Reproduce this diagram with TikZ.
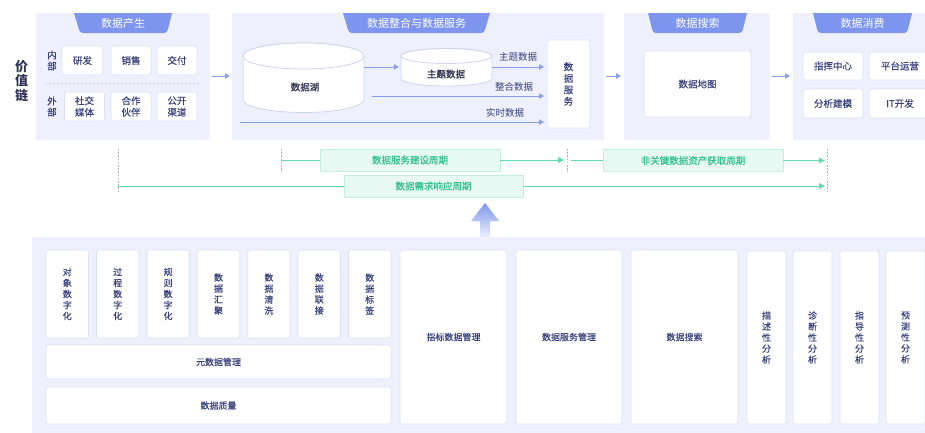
\documentclass[tikz,border=0pt]{standalone}
\usepackage{fontspec}
\setmainfont{Noto Sans CJK SC}
\newfontfamily\medfont{Noto Sans CJK SC}[FakeBold=0.2]
\newfontfamily\semifont{Noto Sans CJK SC}[FakeBold=1.0]
\usetikzlibrary{arrows.meta}
\definecolor{panelbg}{HTML}{EEF1FD}
\definecolor{hdr}{HTML}{7D95EF}
\definecolor{boxline}{HTML}{DCE1F6}
\definecolor{cylline}{HTML}{CBD3F2}
\definecolor{ink}{HTML}{36407A}
\definecolor{darkink}{HTML}{2F3552}
\definecolor{flowc}{HTML}{86A0F2}
\definecolor{mint}{HTML}{62D9AF}
\definecolor{mintbg}{HTML}{E7F9F2}
\definecolor{mintline}{HTML}{C4EFDF}
\definecolor{minttext}{HTML}{2FC08B}
\definecolor{tick}{HTML}{A8ACB8}
\definecolor{sep}{HTML}{CDD1DE}

\begin{document}
\begin{tikzpicture}[x=1pt,y=-1pt,
  panel/.style={fill=panelbg, draw=none, inner sep=0, outer sep=0},
  box/.style={fill=white, draw=boxline, line width=0.8pt, rounded corners=1.5pt,
    inner sep=0, outer sep=0, text=ink, font=\medfont\fontsize{9.5}{11.5}\selectfont, align=center},
  lowbox/.style={box, font=\medfont\fontsize{9}{11}\selectfont},
  hdrfill/.style={fill=hdr},
  hdrtext/.style={text=white, font=\fontsize{11}{13}\selectfont, inner sep=0},
  flow/.style={draw=flowc, line width=1pt, -{Triangle[length=5pt,width=5.5pt]}},
  flowlabel/.style={text=ink, font=\fontsize{9.5}{11}\selectfont, inner sep=0},
  cyl/.style={fill=white, draw=cylline, line width=0.8pt},
  cyltext/.style={text=darkink, font=\semifont\fontsize{9.5}{11}\selectfont, inner sep=0},
  side/.style={text=ink, font=\medfont\fontsize{9.5}{11}\selectfont, align=center, inner sep=0},
  span/.style={fill=mintbg, draw=mintline, line width=0.8pt, text=minttext,
    font=\medfont\fontsize{9.5}{11}\selectfont, inner sep=0},
  spanline/.style={draw=mint, line width=1pt},
  spanarrow/.style={spanline, -{Triangle[length=6pt,width=5.5pt]}},
  tickmark/.style={draw=tick, line width=0.9pt, dash pattern=on 1.6pt off 1.6pt},
]
\path[use as bounding box, clip] (0,0) rectangle (925,432);
\fill[white] (0,0) rectangle (925,432);

% ---------- value chain label ----------
\node[text=darkink, font=\fontsize{13}{14.5}\selectfont\bfseries, align=center, inner sep=0]
  (chain) at (21.5,81) {价\\值\\链};

% ---------- top stage panels ----------
\node[panel, minimum width=174pt, minimum height=127pt] (p1) at (123,76.5) {};
\node[panel, minimum width=372pt, minimum height=127pt] (p2) at (418,76.5) {};
\node[panel, minimum width=146pt, minimum height=127pt] (p3) at (697,76.5) {};
\node[panel, minimum width=150pt, minimum height=127pt] (p4) at (868,76.5) {};

% stage headers
\fill[hdrfill] (74,13) -- (172,13) {[rounded corners=3pt] -- (167,33) -- (80,33)} -- cycle;
\fill[hdrfill] (343,13) -- (490,13) {[rounded corners=3pt] -- (484,33) -- (349,33)} -- cycle;
\fill[hdrfill] (648,13) -- (747,13) {[rounded corners=3pt] -- (742,33) -- (653,33)} -- cycle;
\fill[hdrfill] (813,13) -- (912,13) {[rounded corners=3pt] -- (907,33) -- (818,33)} -- cycle;
\node[hdrtext] (h1) at (123,23) {数据产生};
\node[hdrtext] (h2) at (416.5,23) {数据整合与数据服务};
\node[hdrtext] (h3) at (697.5,23) {数据搜索};
\node[hdrtext] (h4) at (862.5,23) {数据消费};

% stage-to-stage arrows
\coordinate (row) at (0,76);
\draw[flow, shorten <=2pt, shorten >=2pt] (p1.east |- row) -- (p2.west |- row);
\draw[flow, shorten <=2pt, shorten >=3pt] (p2.east |- row) -- (p3.west |- row);
\draw[flow, shorten <=2pt, shorten >=3pt] (p3.east |- row) -- (p4.west |- row);

% ---------- data generation ----------
\node[side] (inner) at (52,60.5) {内\\部};
\node[side] (outer) at (52,106.5) {外\\部};
\node[box, minimum width=41pt, minimum height=29pt] (rd) at (82.5,60.5) {研发};
\node[box, minimum width=40pt, minimum height=29pt] (sales) at (131,60.5) {销售};
\node[box, minimum width=40pt, minimum height=29pt] (deliver) at (177,60.5) {交付};
\coordinate (sepL) at (45,83);
\coordinate (sepR) at (200,83);
\draw[draw=sep, line width=0.8pt, dash pattern=on 2pt off 2pt] (sepL) -- (sepR);
\node[box, minimum width=40pt, minimum height=29pt] (social) at (84.5,106.5) {社交\\媒体};
\node[box, minimum width=40pt, minimum height=29pt] (partner) at (131,106.5) {合作\\伙伴};
\node[box, minimum width=40pt, minimum height=29pt] (public) at (177,106.5) {公开\\渠道};

% ---------- data integration and services ----------
% data lake
\path[cyl] (243,56) -- (243,99.5)
  arc[start angle=180, end angle=360, x radius=60.5pt, y radius=13pt]
  -- (364,56)
  arc[start angle=0, end angle=180, x radius=60.5pt, y radius=13pt] -- cycle;
\path[cyl] (303.5,56) ellipse [x radius=60.5pt, y radius=13pt];
\node[inner sep=0, minimum width=121pt, minimum height=70pt] (lake) at (303.5,78) {};
\node[cyltext] (lakelbl) at (305,87) {数据湖};

% subject data
\path[cyl] (401,56) -- (401,78.5)
  arc[start angle=180, end angle=360, x radius=45.5pt, y radius=7.5pt]
  -- (492,56)
  arc[start angle=0, end angle=180, x radius=45.5pt, y radius=7.5pt] -- cycle;
\path[cyl] (446.5,56) ellipse [x radius=45.5pt, y radius=7.5pt];
\node[inner sep=0, minimum width=91pt, minimum height=38pt] (theme) at (446.5,67) {};
\node[cyltext] (themelbl) at (446,74) {主题数据};

% data service
\node[box, minimum width=43pt, minimum height=88pt] (svc) at (568.5,84) {数\\据\\服\\务};

\coordinate (intsrc) at (372,96);
\coordinate (rtsrc) at (240,122);
\draw[flow, shorten >=2pt] (lake.east |- theme.west) -- (theme.west);
\draw[flow, shorten >=3pt] (theme.east) -- (theme.east -| svc.west);
\draw[flow, shorten >=3pt] (intsrc) -- (intsrc -| svc.west);
\draw[flow, shorten >=3pt] (rtsrc) -- (rtsrc -| svc.west);
\node[flowlabel] (lbl1) at (518,57) {主题数据};
\node[flowlabel] (lbl2) at (514,87) {整合数据};
\node[flowlabel] (lbl3) at (505,113) {实时数据};

% ---------- data search ----------
\node[box, minimum width=107pt, minimum height=66pt] (map) at (697.5,84) {数据地图};

% ---------- data consumption ----------
\node[box, minimum width=60pt, minimum height=28pt] (cmd) at (833,66) {指挥中心};
\node[box, minimum width=62pt, minimum height=28pt] (ops) at (900,66) {平台运营};
\node[box, minimum width=60pt, minimum height=29pt] (model) at (833,103.5) {分析建模};
\node[box, minimum width=62pt, minimum height=29pt] (itdev) at (900,103.5) {IT开发};

% ---------- cycle timelines ----------
\coordinate (k1t) at (118,149); \coordinate (k1b) at (118,192);
\coordinate (k2t) at (281,149); \coordinate (k2b) at (281,172);
\coordinate (k3t) at (567,149); \coordinate (k3b) at (567,172);
\coordinate (k4t) at (827,149); \coordinate (k4b) at (827,192);
\draw[tickmark] (k1t) -- (k1b);
\draw[tickmark] (k2t) -- (k2b);
\draw[tickmark] (k3t) -- (k3b);
\draw[tickmark] (k4t) -- (k4b);

\node[span, minimum width=180pt, minimum height=22pt] (build) at (410,160) {数据服务建设周期};
\node[span, minimum width=180pt, minimum height=22pt] (nonkey) at (693,160.5) {非关键数据资产获取周期};
\node[span, minimum width=179pt, minimum height=22pt] (resp) at (433.5,186) {数据需求响应周期};

\coordinate (b0) at (281,160);
\coordinate (b1) at (564,160);
\coordinate (n0) at (571,160.5);
\coordinate (n1) at (825,160.5);
\coordinate (r0) at (118,186);
\coordinate (r1) at (825,186);
\draw[spanline] (b0) -- (build.west);
\draw[spanarrow] (build.east) -- (b1);
\draw[spanline] (n0) -- (nonkey.west);
\draw[spanarrow] (nonkey.east) -- (n1);
\draw[spanline] (r0) -- (resp.west);
\draw[spanarrow] (resp.east) -- (r1);

% ---------- capability layer ----------
\node[panel, minimum width=910pt, minimum height=200pt] (base) at (487,337) {};
\shade[top color=hdr, bottom color=hdr!15!white]
  (485,203) -- (499,221) -- (490,221) -- (490,237) -- (480,237) -- (480,221) -- (471,221) -- cycle;

\node[lowbox, minimum width=42.5pt, minimum height=88pt] (c1) at (67.3,294) {对\\象\\数\\字\\化};
\node[lowbox, minimum width=42.5pt, minimum height=88pt] (c2) at (117.7,294) {过\\程\\数\\字\\化};
\node[lowbox, minimum width=42.5pt, minimum height=88pt] (c3) at (168.1,294) {规\\则\\数\\字\\化};
\node[lowbox, minimum width=42.5pt, minimum height=88pt] (c4) at (218.5,294) {数\\据\\汇\\聚};
\node[lowbox, minimum width=42.5pt, minimum height=88pt] (c5) at (268.9,294) {数\\据\\清\\洗};
\node[lowbox, minimum width=42.5pt, minimum height=88pt] (c6) at (319.3,294) {数\\据\\联\\接};
\node[lowbox, minimum width=42.5pt, minimum height=88pt] (c7) at (369.7,294) {数\\据\\标\\签};
\node[lowbox, minimum width=345pt, minimum height=34pt] (meta) at (218.5,362) {元数据管理};
\node[lowbox, minimum width=345pt, minimum height=37pt] (quality) at (218.5,405.5) {数据质量};

\node[lowbox, minimum width=107pt, minimum height=174pt] (metric) at (453.5,337) {指标数据管理};
\node[lowbox, minimum width=106pt, minimum height=174pt] (svcmgmt) at (569,337) {数据服务管理};
\node[lowbox, minimum width=107pt, minimum height=174pt] (search) at (684.5,337) {数据搜索};

\node[lowbox, minimum width=39pt, minimum height=173pt] (a1) at (766.5,337.5) {描\\述\\性\\分\\析};
\node[lowbox, minimum width=39pt, minimum height=173pt] (a2) at (812.5,337.5) {诊\\断\\性\\分\\析};
\node[lowbox, minimum width=39pt, minimum height=173pt] (a3) at (859.5,337.5) {指\\导\\性\\分\\析};
\node[lowbox, minimum width=39pt, minimum height=173pt] (a4) at (905.5,337.5) {预\\测\\性\\分\\析};
\end{tikzpicture}
\end{document}
